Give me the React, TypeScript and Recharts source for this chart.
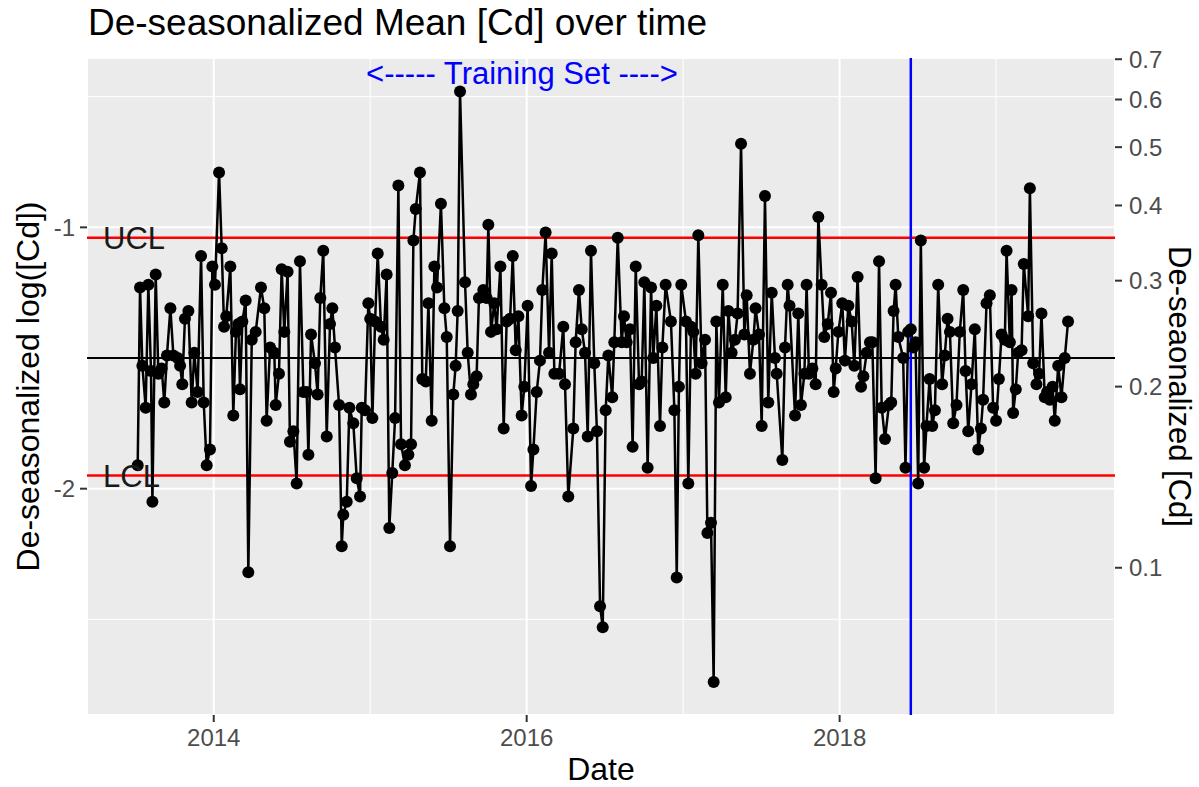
import { LineChart, Line, XAxis, YAxis, CartesianGrid, ReferenceLine, ReferenceDot } from 'recharts';

// weekly sample dates (decimal years) and de-seasonalized log([Cd])
const dates = [
  2013.514, 2013.529, 2013.544, 2013.565, 2013.582, 2013.599, 2013.608, 2013.629, 2013.646, 2013.667,
  2013.684, 2013.701, 2013.723, 2013.742, 2013.770, 2013.785, 2013.799, 2013.816, 2013.838, 2013.859,
  2013.876, 2013.897, 2013.919, 2013.936, 2013.955, 2013.976, 2013.991, 2014.008, 2014.034, 2014.051,
  2014.066, 2014.080, 2014.106, 2014.125, 2014.142, 2014.157, 2014.168, 2014.183, 2014.204, 2014.221,
  2014.243, 2014.268, 2014.302, 2014.323, 2014.338, 2014.360, 2014.387, 2014.396, 2014.417, 2014.434,
  2014.451, 2014.472, 2014.487, 2014.509, 2014.530, 2014.551, 2014.573, 2014.594, 2014.605, 2014.622,
  2014.647, 2014.664, 2014.681, 2014.700, 2014.722, 2014.743, 2014.758, 2014.775, 2014.801, 2014.818,
  2014.828, 2014.850, 2014.867, 2014.892, 2014.914, 2014.935, 2014.946, 2014.967, 2014.988, 2015.000,
  2015.014, 2015.031, 2015.048, 2015.069, 2015.086, 2015.105, 2015.122, 2015.141, 2015.159, 2015.180,
  2015.197, 2015.222, 2015.244, 2015.261, 2015.276, 2015.291, 2015.318, 2015.333, 2015.355, 2015.372,
  2015.393, 2015.410, 2015.427, 2015.452, 2015.474, 2015.489, 2015.510, 2015.531, 2015.546, 2015.559,
  2015.574, 2015.606, 2015.623, 2015.644, 2015.659, 2015.680, 2015.695, 2015.723, 2015.744, 2015.755,
  2015.772, 2015.793, 2015.808, 2015.832, 2015.853, 2015.872, 2015.894, 2015.911, 2015.930, 2015.947,
  2015.968, 2015.985, 2016.006, 2016.028, 2016.043, 2016.064, 2016.085, 2016.100, 2016.121, 2016.143,
  2016.160, 2016.177, 2016.207, 2016.234, 2016.245, 2016.266, 2016.298, 2016.313, 2016.334, 2016.352,
  2016.373, 2016.390, 2016.411, 2016.432, 2016.449, 2016.469, 2016.486, 2016.505, 2016.522, 2016.547,
  2016.560, 2016.582, 2016.607, 2016.622, 2016.639, 2016.660, 2016.677, 2016.697, 2016.718, 2016.735,
  2016.752, 2016.773, 2016.795, 2016.809, 2016.829, 2016.852, 2016.867, 2016.888, 2016.922, 2016.944,
  2016.959, 2016.973, 2016.988, 2017.018, 2017.033, 2017.050, 2017.065, 2017.080, 2017.097, 2017.118,
  2017.140, 2017.155, 2017.178, 2017.195, 2017.212, 2017.229, 2017.253, 2017.272, 2017.289, 2017.310,
  2017.331, 2017.348, 2017.370, 2017.391, 2017.406, 2017.427, 2017.449, 2017.463, 2017.485, 2017.502,
  2017.523, 2017.544, 2017.566, 2017.587, 2017.598, 2017.634, 2017.651, 2017.668, 2017.680, 2017.715,
  2017.736, 2017.753, 2017.775, 2017.789, 2017.804, 2017.826, 2017.847, 2017.864, 2017.885, 2017.902,
  2017.924, 2017.945, 2017.962, 2017.975, 2017.992, 2018.017, 2018.034, 2018.056, 2018.077, 2018.094,
  2018.115, 2018.137, 2018.152, 2018.173, 2018.194, 2018.209, 2018.230, 2018.252, 2018.269, 2018.290,
  2018.315, 2018.330, 2018.345, 2018.358, 2018.375, 2018.406, 2018.421, 2018.438, 2018.455, 2018.470,
  2018.485, 2018.502, 2018.519, 2018.540, 2018.555, 2018.575, 2018.592, 2018.609, 2018.630, 2018.655,
  2018.672, 2018.690, 2018.705, 2018.726, 2018.747, 2018.768, 2018.790, 2018.805, 2018.822, 2018.843,
  2018.864, 2018.886, 2018.903, 2018.917, 2018.939, 2018.960, 2018.981, 2019.000, 2019.018, 2019.035,
  2019.056, 2019.067, 2019.088, 2019.099, 2019.109, 2019.126, 2019.141, 2019.163, 2019.177, 2019.205,
  2019.216, 2019.237, 2019.258, 2019.275, 2019.290, 2019.311, 2019.326, 2019.343, 2019.361, 2019.375,
  2019.397, 2019.418, 2019.439, 2019.460,
];

const logCd = [
  -1.91, -1.23, -1.53, -1.69, -1.22, -1.55, -2.05, -1.18, -1.56, -1.54,
  -1.67, -1.49, -1.31, -1.49, -1.50, -1.53, -1.60, -1.35, -1.32, -1.67,
  -1.48, -1.63, -1.11, -1.67, -1.91, -1.85, -1.15, -1.22, -0.79, -1.08,
  -1.38, -1.34, -1.15, -1.72, -1.40, -1.37, -1.62, -1.36, -1.28, -2.32,
  -1.43, -1.40, -1.23, -1.31, -1.74, -1.46, -1.48, -1.68, -1.56, -1.16,
  -1.40, -1.17, -1.82, -1.78, -1.98, -1.13, -1.63, -1.63, -1.87, -1.41,
  -1.52, -1.64, -1.27, -1.09, -1.80, -1.37, -1.31, -1.46, -1.68, -2.22,
  -2.10, -2.05, -1.69, -1.75, -1.96, -2.03, -1.69, -1.70, -1.29, -1.35,
  -1.73, -1.36, -1.10, -1.38, -1.43, -1.18, -2.15, -1.94, -1.73, -0.84,
  -1.83, -1.91, -1.87, -1.83, -1.05, -0.93, -0.79, -1.58, -1.59, -1.29,
  -1.74, -1.15, -1.23, -0.91, -1.31, -1.42, -2.22, -1.64, -1.53, -1.32,
  -0.48, -1.21, -1.48, -1.64, -1.60, -1.57, -1.27, -1.24, -1.27, -0.99,
  -1.40, -1.29, -1.39, -1.15, -1.77, -1.36, -1.35, -1.11, -1.47, -1.34,
  -1.72, -1.61, -1.30, -1.99, -1.85, -1.63, -1.51, -1.24, -1.02, -1.48,
  -1.10, -1.56, -1.56, -1.38, -1.60, -2.03, -1.77, -1.44, -1.24, -1.39,
  -1.48, -1.80, -1.09, -1.52, -1.78, -2.45, -2.53, -1.70, -1.49, -1.65,
  -1.44, -1.04, -1.44, -1.34, -1.44, -1.39, -1.84, -1.15, -1.60, -1.59,
  -1.21, -1.92, -1.23, -1.50, -1.30, -1.76, -1.46, -1.22, -1.36, -1.70,
  -2.34, -1.61, -1.22, -1.36, -1.98, -1.38, -1.40, -1.56, -1.03, -1.52,
  -1.43, -2.17, -2.13, -2.74, -1.36, -1.67, -1.22, -1.65, -1.32, -1.48,
  -1.43, -1.33, -0.68, -1.41, -1.26, -1.56, -1.43, -1.31, -1.41, -1.76,
  -0.88, -1.67, -1.25, -1.50, -1.56, -1.89, -1.46, -1.22, -1.30, -1.72,
  -1.33, -1.68, -1.56, -1.22, -1.56, -1.54, -1.60, -0.96, -1.22, -1.42,
  -1.37, -1.25, -1.63, -1.54, -1.40, -1.29, -1.51, -1.30, -1.36, -1.53,
  -1.19, -1.61, -1.57, -1.48, -1.44, -1.44, -1.96, -1.13, -1.69, -1.81,
  -1.68, -1.67, -1.32, -1.22, -1.42, -1.50, -1.92, -1.40, -1.39, -1.46,
  -1.44, -1.98, -1.05, -1.92, -1.76, -1.58, -1.76, -1.70, -1.22, -1.60,
  -1.49, -1.35, -1.40, -1.75, -1.68, -1.40, -1.24, -1.55, -1.78, -1.60,
  -1.39, -1.85, -1.77, -1.66, -1.29, -1.26, -1.69, -1.74, -1.58, -1.41,
  -1.43, -1.09, -1.44, -1.24, -1.71, -1.62, -1.48, -1.47, -1.14, -1.34,
  -0.85, -1.52, -1.60, -1.56, -1.33, -1.65, -1.63, -1.66, -1.61, -1.74,
  -1.53, -1.65, -1.50, -1.36,
];

const xTicks = [2014, 2016, 2018];
const xMinor = [2015, 2017, 2019];
const yTicks = [-2, -1];
const yMinor = [-2.5, -1.5, -0.5];
const cdTicks = [0.1, 0.2, 0.3, 0.4, 0.5, 0.6, 0.7];

const UCL = -1.04;
const CL = -1.5;
const LCL = -1.95;
const TRAIN_END = 2018.455;

const xDomain = [2013.19, 2019.76];
const yDomain = [-2.866, -0.352];

const data = dates.map((d, i) => ({ date: d, value: logCd[i] }));

const FONT = '"Liberation Sans", Arial, Helvetica, sans-serif';
const tickStyle = { fill: '#4D4D4D', fontSize: 24 };
const tickLine = { stroke: '#333333', strokeWidth: 2 };

export default function App() {
  return (
    <div style={{ position: 'absolute', left: 0, top: 0, width: 1199, height: 787, background: '#fff', fontFamily: FONT }}>
      <div style={{ position: 'absolute', left: 88, top: 4, fontSize: 37, lineHeight: 1, color: '#000', whiteSpace: 'nowrap' }}>
        De-seasonalized Mean [Cd] over time
      </div>
      <LineChart width={1199} height={787} data={data} margin={{ top: 58, right: 0, bottom: 0, left: 0 }} style={{ fontFamily: FONT }}>
        <CartesianGrid stroke="#FFFFFF" strokeWidth={2} fill="#EBEBEB" fillOpacity={1} />
        {xMinor.map((x) => (
          <ReferenceLine key={'xm' + x} x={x} stroke="#FFFFFF" strokeWidth={1} />
        ))}
        {yMinor.map((y) => (
          <ReferenceLine key={'ym' + y} y={y} stroke="#FFFFFF" strokeWidth={1} />
        ))}
        <XAxis
          dataKey="date"
          type="number"
          domain={xDomain}
          ticks={xTicks}
          allowDataOverflow
          height={72}
          axisLine={false}
          tickSize={7}
          tickMargin={7}
          tickLine={tickLine}
          tick={tickStyle}
          tickFormatter={(v) => String(v)}
          label={{ value: 'Date', position: 'insideBottom', offset: 7, fill: '#000', fontSize: 32 }}
        />
        <YAxis
          type="number"
          domain={yDomain}
          ticks={yTicks}
          allowDataOverflow
          width={87}
          axisLine={false}
          tickSize={7}
          tickMargin={5}
          tickLine={tickLine}
          tick={tickStyle}
          label={{ value: 'De-seasonalized log([Cd])', angle: -90, position: 'insideLeft', offset: 28, fill: '#000', fontSize: 32, style: { textAnchor: 'middle' } }}
        />
        <YAxis
          yAxisId="right"
          orientation="right"
          type="number"
          domain={yDomain}
          ticks={cdTicks.map((c) => Math.log(c))}
          allowDataOverflow
          width={84}
          axisLine={false}
          tickSize={7}
          tickMargin={7}
          tickLine={tickLine}
          tick={tickStyle}
          tickFormatter={(v) => Math.exp(v).toFixed(1)}
          label={{ value: 'De-seaonalized [Cd]', angle: 90, position: 'insideRight', offset: 19, fill: '#000', fontSize: 31, style: { textAnchor: 'middle' } }}
        />
        <ReferenceLine y={CL} stroke="#000000" strokeWidth={2} />
        <ReferenceLine
          y={UCL}
          stroke="#FF0000"
          strokeWidth={2.5}
          label={{ value: 'UCL', position: 'insideLeft', offset: 16, fill: '#1A1A1A', fontSize: 31 }}
        />
        <ReferenceLine
          y={LCL}
          stroke="#FF0000"
          strokeWidth={2.5}
          label={{ value: 'LCL', position: 'insideLeft', offset: 16, fill: '#1A1A1A', fontSize: 31 }}
        />
        <Line
          type="linear"
          dataKey="value"
          stroke="#000000"
          strokeWidth={2.5}
          dot={{ r: 6, fill: '#000000', stroke: 'none' }}
          activeDot={false}
          isAnimationActive={false}
        />
        <ReferenceLine x={TRAIN_END} stroke="#0000FF" strokeWidth={2.5} />
        <ReferenceDot
          x={2015.97}
          y={-0.41}
          r={0}
          fill="none"
          stroke="none"
          label={{ value: '<----- Training Set ---->', position: 'center', fill: '#0000FF', fontSize: 31 }}
        />
      </LineChart>
    </div>
  );
}
